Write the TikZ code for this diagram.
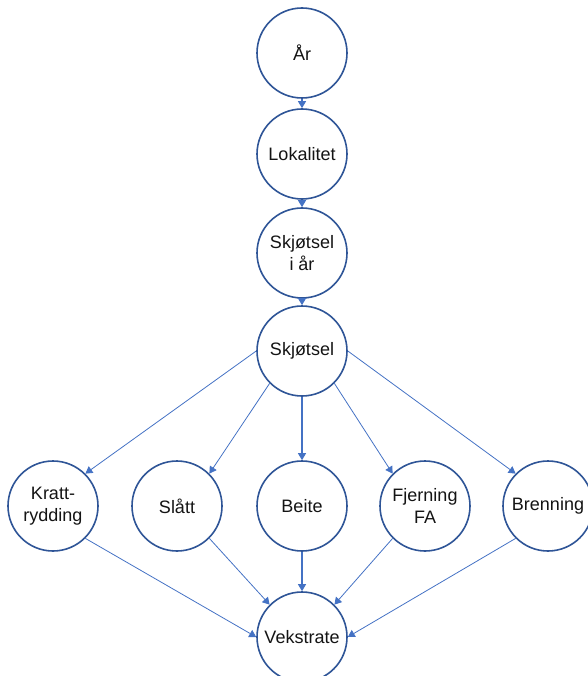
\documentclass[tikz,border=0pt]{standalone}
\usepackage{fontspec}
\setmainfont{Liberation Sans}
\usetikzlibrary{arrows.meta}
\definecolor{circ}{RGB}{47,85,151}
\definecolor{arr}{RGB}{68,114,196}
\definecolor{txt}{RGB}{20,20,20}
\begin{document}
\begin{tikzpicture}[x=1pt,y=-1pt,
  state/.style={circle,draw=circ,line width=1.6pt,fill=white,minimum size=90pt,inner sep=0pt,
    align=center,font=\fontsize{18}{22}\selectfont,text=txt},
  link/.style={draw=arr,line width=0.8pt,-{Triangle[width=8pt,length=7pt]}},
  mainlink/.style={draw=arr,line width=1.2pt,-{Triangle[width=8pt,length=7pt]}}]
\useasboundingbox (0,0) rectangle (587,676);
\node[state] (ar) at (302,53) {År};
\node[state] (lok) at (302,154) {Lokalitet};
\node[state] (sia) at (302,253) {Skjøtsel\\i år};
\node[state] (skj) at (302,351) {Skjøtsel};
\node[state] (kr) at (53,506) {Kratt-\\rydding};
\node[state] (sl) at (177,506) {Slått};
\node[state] (be) at (302,506) {Beite};
\node[state] (fj) at (425,506) {Fjerning\\FA};
\node[state] (br) at (548,506) {Brenning};
\node[state] (ve) at (302,637) {Vekstrate};
\draw[mainlink] (ar.south) -- (lok.north);
\draw[mainlink] (lok.south) -- (sia.north);
\draw[mainlink] (sia.south) -- (skj.north);
\draw[link] (skj.west) -- (kr.north east);
\draw[link] (skj.south west) -- (sl.north east);
\draw[mainlink] (skj.south) -- (be.north);
\draw[link] (skj.south east) -- (fj.north west);
\draw[link] (skj.east) -- (br.north west);
\draw[link] (kr.south east) -- (ve.west);
\draw[link] (sl.south east) -- (ve.north west);
\draw[mainlink] (be.south) -- (ve.north);
\draw[link] (fj.south west) -- (ve.north east);
\draw[link] (br.south west) -- (ve.east);
\end{tikzpicture}
\end{document}
